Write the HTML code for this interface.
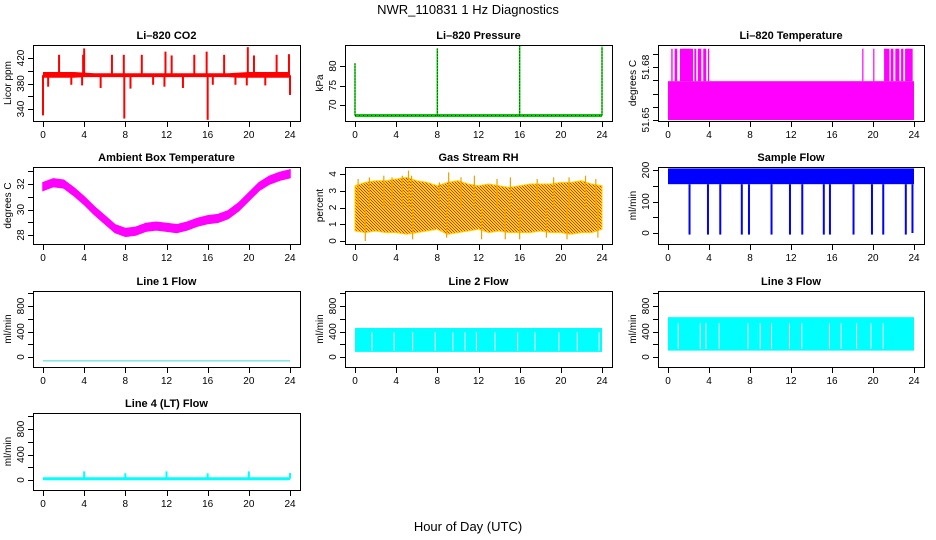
<!DOCTYPE html>
<html><head><meta charset="utf-8"><title>NWR_110831 1 Hz Diagnostics</title>
<style>
html,body{margin:0;padding:0;background:#fff;}
svg{display:block;font-family:"Liberation Sans",sans-serif;}
</style></head>
<body>
<svg id="chart" width="936" height="540" viewBox="0 0 936 540" xmlns="http://www.w3.org/2000/svg">
<defs>
<pattern id="rhpat" width="3" height="3" patternUnits="userSpaceOnUse">
<rect width="3" height="3" fill="#ffdd00"/><rect width="1" height="1" fill="#ee2200"/><rect x="1" y="1" width="1" height="1" fill="#ee2200"/><rect x="2" y="2" width="1" height="1" fill="#ee2200"/>
</pattern>
</defs>
<text x="468" y="14" text-anchor="middle" font-size="13">NWR_110831  1 Hz Diagnostics</text>
<text x="468" y="531" text-anchor="middle" font-size="13">Hour of Day (UTC)</text>
</svg>
<script>
// ---------- data ----------
const hours = [0,1,2,3,4,5,6,7,8,9,10,11,12,13,14,15,16,17,18,19,20,21,22,23,24];
const xTicks = [0,4,8,12,16,20,24];

const co2Lo = [389,389,389,389,390,390,390,390,390,390,390,390,390,390,390,390,390,390,390,389,389,389,389,389,389];
const co2Hi = [398,398,398,398,397,396,396,396,396,396,396,396,396,396,396,396,396,396,396,397,398,398,398,398,398];
const co2SpikeHours = [1.56,3.9,4.0,6.7,7.85,9.6,11.9,12.5,14.7,15.9,17.6,19.9,20.5,22.7,23.9,0,0.5,2.75,3.8,5.6,7.9,8.5,10.7,11.8,13.6,16,16.5,18.7,19.8,21.6,24];
const co2SpikeVals  = [425,425,435,425,425,425,430,424,425,430,425,437,424,425,426,330,375,378,377,373,325,372,378,375,373,323,378,378,377,377,362];

const presBase = 67.3;
const presSpikeHours = [0,8,16,24];
const presSpikeVals = [80.7,84.5,85.5,85];

const tempBase = 51.65;
const tempLevel = 51.6647;
const tempSpikeTop = 51.677;
const tempSpikeStart = [0.32,0.65,1.17,2.57,2.92,3.44,3.9,18.95,20.02,21.08,21.73,22.18,22.74,23.13];
const tempSpikeEnd   = [0.45,0.9,2.44,2.76,3.25,3.73,3.99,19.0,20.07,21.6,21.99,22.57,22.96,23.87];

const ambTemp = [31.8,32.1,32.0,31.4,30.7,29.9,29.2,28.5,28.2,28.3,28.6,28.7,28.6,28.5,28.7,29.0,29.2,29.3,29.6,30.2,31.0,31.8,32.3,32.6,32.8];
const ambHalf = 0.3;

const rhHi = [3.3,3.5,3.6,3.6,3.7,3.8,3.6,3.5,3.3,3.5,3.6,3.4,3.3,3.4,3.3,3.2,3.3,3.4,3.4,3.4,3.5,3.5,3.6,3.4,3.3];
const rhLo = [0.6,0.5,0.6,0.5,0.5,0.4,0.5,0.6,0.7,0.4,0.5,0.6,0.7,0.5,0.6,0.5,0.5,0.5,0.6,0.5,0.5,0.4,0.5,0.5,0.7];
const rhSpikeHours = [0.3,1.4,2.8,3.6,4.6,5.2,5.5,8.2,9.1,10.3,11.6,13.8,15.1,17.7,19.3,20.8,22.4,23.4,1.0,5.6,8.9,12.3,14.6,16.0,18.6,20.6,23.6];
const rhSpikeVals  = [3.7,3.8,3.9,3.8,3.9,4.2,3.9,3.5,4.1,3.8,3.9,3.7,3.8,3.7,3.8,3.8,3.9,3.7,0.0,0.1,0.2,0.1,0.1,0.1,0.2,0.1,0.2];

const flowLo = 155;
const flowHi = 205;
const flowDropHours = [2.1,3.9,5.1,7.2,7.9,10.1,11.9,13.1,15.2,15.8,18.1,19.9,21.0,23.2,23.85];
const flowDropVals  = [-5,-5,-5,-5,-5,-5,-5,-5,-5,-5,-5,-5,-5,-5,0];

const line1Val = -60;

const line2Lo = 80;
const line2Hi = 455;
const line2GapHours = [1.65,3.8,5.6,7.8,9.5,10.7,11.8,13.6,15.8,17.5,19.8,21.6,23.7];

const line3Lo = 100;
const line3Hi = 625;
const line3GapHours = [1.0,3.15,3.7,5.0,7.8,9.0,10.1,11.85,13.05,15.75,16.9,18.4,19.8,21.0];

const line4Base = 20;
const line4SpikeHours = [4,8,12,16,20,24];
const line4SpikeVals = [135,105,135,105,135,110];

// ---------- helpers ----------
const NS = "http://www.w3.org/2000/svg";
const svg = document.getElementById('chart');
const defs = svg.querySelector('defs');
function el(tag, attrs, parent){
  const e = document.createElementNS(NS, tag);
  for (const k in attrs) e.setAttribute(k, attrs[k]);
  (parent || svg).appendChild(e);
  return e;
}
const cols = [[33,300],[345,612],[658,924]];
const rows = [[45,121],[167,244],[291,367],[413,490]];

function makePanel(name, c, r, title, ylab, ref, yTicks, yLabels){
  const bx0 = cols[c][0], bx1 = cols[c][1], by0 = rows[r][0], by1 = rows[r][1];
  const g = el('g', {});
  
  
  const X0 = bx0 + 10, X24 = bx1 - 10;
  const xs = h => X0 + h * (X24 - X0) / 24;
  const ys = v => ref[1] + (v - ref[0]) * (ref[3] - ref[1]) / (ref[2] - ref[0]);
  const cp = el('clipPath', {id:'clip-' + name}, defs);
  el('rect', {x:bx0+1, y:by0+1, width:bx1-bx0-1, height:by1-by0-1}, cp);
  const plot = el('g', {'clip-path':'url(#clip-' + name + ')'}, g);
  
  
  const t = el('text', {x:(bx0+bx1)/2, y:by0-6, 'text-anchor':'middle', 'font-size':'11', 'font-weight':'bold'}, g);
  t.textContent = title;
  
  
  const ax = el('g', {stroke:'#000', 'stroke-width':'1', fill:'none', 'shape-rendering':'crispEdges'}, g);
  
  
  el('line', {x1:xs(0), x2:xs(24), y1:by1+0.5, y2:by1+0.5}, ax);
  xTicks.forEach(h => {
    el('line', {x1:Math.round(xs(h))+0.5, x2:Math.round(xs(h))+0.5, y1:by1, y2:by1+6}, ax);
    const tl = el('text', {x:xs(h), y:by1+17, 'text-anchor':'middle', 'font-size':'10', stroke:'none', fill:'#000'}, g);
    tl.textContent = h;
    
    
  });
  const ay = el('g', {stroke:'#000', 'stroke-width':'1', fill:'none', 'shape-rendering':'crispEdges'}, g);
  
  
  el('line', {x1:bx0+0.5, x2:bx0+0.5, y1:ys(yTicks[0]), y2:ys(yTicks[yTicks.length-1])}, ay);
  yTicks.forEach((v,i) => {
    const y = Math.round(ys(v))+0.5;
    el('line', {x1:bx0-5, x2:bx0, y1:y, y2:y}, ay);
    if (yLabels[i] !== '') {
      const tl = el('text', {x:0, y:0, 'text-anchor':'middle', 'font-size':'10', fill:'#000',
        transform:'translate(' + (bx0-9) + ',' + ys(v) + ') rotate(-90)'}, g);
      tl.textContent = yLabels[i];
      
      
    }
  });
  const yt = el('text', {x:0, y:0, 'text-anchor':'middle', 'font-size':'10', fill:'#000',
    transform:'translate(' + (bx0-22) + ',' + ((by0+by1)/2) + ') rotate(-90)'}, g);
  yt.textContent = ylab;
  
  
  const box = {x:bx0+0.5, y:by0+0.5, width:bx1-bx0, height:by1-by0, fill:'none', stroke:'#000', 'shape-rendering':'crispEdges'};
  return {g, plot, xs, ys, box, by0, by1};
}
function finish(p, name){
  const b = el('rect', p.box, p.g);
  
  
}
function bandPath(xs, ys, hiArr, loArr){
  let d = '';
  hours.forEach((h,i) => { d += (i ? 'L' : 'M') + xs(h) + ',' + ys(hiArr[i]); });
  for (let i = hours.length-1; i >= 0; i--) d += 'L' + xs(hours[i]) + ',' + ys(loArr[i]);
  return d + 'Z';
}
function vline(p, h, v1, v2, color, w, name){
  const l = el('line', {x1:p.xs(h), x2:p.xs(h), y1:p.ys(v1), y2:p.ys(v2), stroke:color, 'stroke-width':w}, p.plot);
  
  
  return l;
}

// ---------- CO2 ----------
{
  const p = makePanel('co2', 0, 0, 'Li\u2013820 CO2', 'Licor ppm', [340,109,420,58], [340,360,380,400,420], ['340','','380','','420']);
  const b = el('path', {d:bandPath(p.xs,p.ys,co2Hi,co2Lo), fill:'#ff0000'}, p.plot);
  
  
  co2SpikeHours.forEach((h,i) => vline(p, h, 393, co2SpikeVals[i], '#ff0000', 2, 'co2-spike'));
  finish(p, 'co2');
}
// ---------- Pressure ----------
{
  const p = makePanel('pressure', 1, 0, 'Li\u2013820 Pressure', 'kPa', [70,105,80,66], [70,75,80], ['70','75','80']);
  const l = el('line', {x1:p.xs(0), x2:p.xs(24), y1:p.ys(presBase), y2:p.ys(presBase), stroke:'#00cc00', 'stroke-width':3}, p.plot);
  
  
  const l2 = el('line', {x1:p.xs(0), x2:p.xs(24), y1:p.ys(presBase), y2:p.ys(presBase), stroke:'#000', 'stroke-width':1, 'stroke-dasharray':'1,3'}, p.plot);
  
  
  presSpikeHours.forEach((h,i) => {
    vline(p, h, presBase, presSpikeVals[i], '#00dd00', 1.5, 'pressure-spike');
    const d = vline(p, h, presBase, presSpikeVals[i], '#000', 1, 'pressure-spike-dotted');
    d.setAttribute('stroke-dasharray', '1,2');
  });
  finish(p, 'pressure');
}
// ---------- Li-820 Temperature ----------
{
  const p = makePanel('li820-temp', 2, 0, 'Li\u2013820 Temperature', 'degrees C', [51.65,120,51.675,54],
    [51.65,51.655,51.66,51.665,51.67,51.675], ['51.65','','','','51.68','']);
  const r = el('rect', {x:p.xs(0), y:p.ys(tempLevel), width:p.xs(24)-p.xs(0), height:p.ys(tempBase)-p.ys(tempLevel), fill:'#ff00ff'}, p.plot);
  
  
  tempSpikeStart.forEach((s,i) => {
    const x1 = p.xs(s), x2 = Math.max(p.xs(tempSpikeEnd[i]), x1+1.2);
    const sp = el('rect', {x:x1, y:p.ys(tempSpikeTop), width:x2-x1, height:p.ys(tempLevel)-p.ys(tempSpikeTop), fill:'#ff00ff'}, p.plot);
    
    
  });
  finish(p, 'li820-temp');
}
// ---------- Ambient ----------
{
  const p = makePanel('ambient-temp', 0, 1, 'Ambient Box Temperature', 'degrees C', [28,235,32,184], [28,29,30,31,32,33], ['28','','30','','32','']);
  const hi = ambTemp.map(v => v + ambHalf), lo = ambTemp.map(v => v - ambHalf);
  const b = el('path', {d:bandPath(p.xs,p.ys,hi,lo), fill:'#ff00ff', stroke:'#ff00ff', 'stroke-width':1.5}, p.plot);
  
  
  finish(p, 'ambient-temp');
}
// ---------- Gas RH ----------
{
  const p = makePanel('gas-rh', 1, 1, 'Gas Stream RH', 'percent', [0,241,4,174], [0,1,2,3,4], ['0','1','2','3','4']);
  const b = el('path', {d:bandPath(p.xs,p.ys,rhHi,rhLo), fill:'url(#rhpat)', stroke:'#ffd000', 'stroke-width':1}, p.plot);
  
  
  rhSpikeHours.forEach((h,i) => vline(p, h, 2, rhSpikeVals[i], '#f0a000', 1.2, 'gas-rh-spike'));
  finish(p, 'gas-rh');
}
// ---------- Sample flow ----------
{
  const p = makePanel('sample-flow', 2, 1, 'Sample Flow', 'ml/min', [0,233,200,170], [0,50,100,150,200], ['0','','100','','200']);
  const r = el('rect', {x:p.xs(0), y:p.ys(flowHi), width:p.xs(24)-p.xs(0), height:p.ys(flowLo)-p.ys(flowHi), fill:'#0000ff'}, p.plot);
  
  
  flowDropHours.forEach((h,i) => vline(p, h, flowLo, flowDropVals[i], '#0000ff', 2, 'sample-flow-drop'));
  finish(p, 'sample-flow');
}
// ---------- Line flows ----------
const flowTicks = [0,200,400,600,800,1000], flowLabels = ['0','','400','','800',''];
{
  const p = makePanel('line1-flow', 0, 2, 'Line 1 Flow', 'ml/min', [0,357,800,306], flowTicks, flowLabels);
  const l = el('line', {x1:p.xs(0), x2:p.xs(24), y1:p.ys(line1Val), y2:p.ys(line1Val), stroke:'#40d8d8', 'stroke-width':1}, p.plot);
  
  
  finish(p, 'line1-flow');
}
function flowBand(p, name, lo, hi, gaps){
  const r = el('rect', {x:p.xs(0), y:p.ys(hi), width:p.xs(24)-p.xs(0), height:p.ys(lo)-p.ys(hi), fill:'#00ffff'}, p.plot);
  
  
  gaps.forEach(h => vline(p, h, lo + (hi-lo)*0.05, hi - (hi-lo)*0.18, '#ffffff', 1, name + '-gap'));
}
{
  const p = makePanel('line2-flow', 1, 2, 'Line 2 Flow', 'ml/min', [0,357,800,306], flowTicks, flowLabels);
  flowBand(p, 'line2-flow', line2Lo, line2Hi, line2GapHours);
  finish(p, 'line2-flow');
}
{
  const p = makePanel('line3-flow', 2, 2, 'Line 3 Flow', 'ml/min', [0,357,800,306], flowTicks, flowLabels);
  flowBand(p, 'line3-flow', line3Lo, line3Hi, line3GapHours);
  finish(p, 'line3-flow');
}
{
  const p = makePanel('line4-flow', 0, 3, 'Line 4 (LT) Flow', 'ml/min', [0,480,800,429], flowTicks, flowLabels);
  const l = el('line', {x1:p.xs(0), x2:p.xs(24), y1:p.ys(line4Base), y2:p.ys(line4Base), stroke:'#00ffff', 'stroke-width':3}, p.plot);
  
  
  line4SpikeHours.forEach((h,i) => vline(p, h, line4Base, line4SpikeVals[i], '#00ffff', 2, 'line4-flow-spike'));
  finish(p, 'line4-flow');
}
</script>
</body></html>
